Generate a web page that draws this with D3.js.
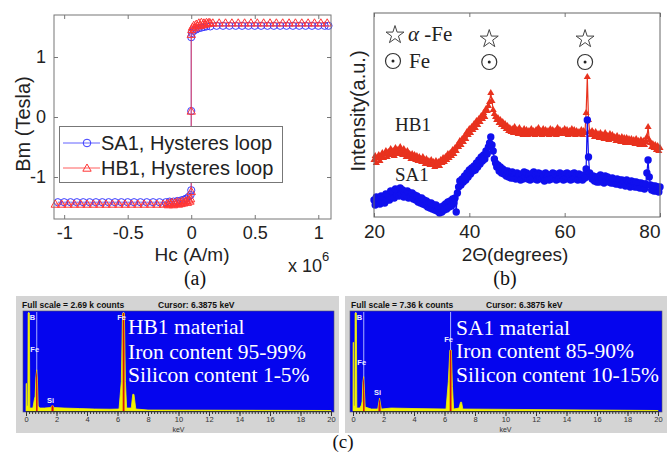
<!DOCTYPE html>
<html><head><meta charset="utf-8">
<script src="https://cdn.jsdelivr.net/npm/d3@7"></script>
<style>body{margin:0;background:#fff}svg{display:block}</style>
</head><body><svg id="chart" width="670" height="454"></svg>
<script>
// ---------------- Panel (a): hysteresis loops ----------------
const hcTicks = [-1, -0.5, 0, 0.5, 1];
const hcTickLabels = ["-1", "-0.5", "0", "0.5", "1"];
const bmTicks = [-1, 0, 1];
const bmTickLabels = ["-1", "0", "1"];
const sa1H = [-1.05,-1.00,-0.95,-0.90,-0.85,-0.80,-0.75,-0.70,-0.65,-0.60,-0.55,-0.50,-0.45,-0.40,-0.35,-0.30,-0.25,-0.20,
  -0.17,-0.14,-0.11,-0.08,-0.06,-0.04,-0.02,-0.005,
  0,0,0,
  0.005,0.02,0.04,0.06,0.08,0.10,0.12,0.15,
  0.20,0.25,0.30,0.35,0.40,0.45,0.50,0.55,0.60,0.65,0.70,0.75,0.80,0.85,0.90,0.95,1.00,1.05,1.08];
const sa1B = [-1.42,-1.42,-1.42,-1.42,-1.42,-1.42,-1.42,-1.42,-1.42,-1.42,-1.42,-1.42,-1.42,-1.42,-1.42,-1.42,-1.42,-1.42,
  -1.41,-1.41,-1.40,-1.39,-1.38,-1.36,-1.33,-1.30,
  -1.22,0.10,1.33,
  1.40,1.44,1.46,1.48,1.49,1.50,1.51,1.51,
  1.52,1.52,1.52,1.52,1.52,1.52,1.52,1.52,1.52,1.52,1.52,1.52,1.52,1.52,1.52,1.52,1.52,1.52,1.52];
const hb1H = [-1.07,-1.02,-0.97,-0.92,-0.87,-0.82,-0.77,-0.72,-0.67,-0.62,-0.57,-0.52,-0.47,-0.42,-0.37,-0.32,-0.27,-0.22,
  -0.19,-0.18,-0.17,-0.16,-0.15,-0.14,-0.13,-0.12,-0.11,-0.10,-0.09,-0.08,-0.07,-0.06,-0.05,-0.04,-0.03,-0.02,-0.01,-0.005,
  0,0,0,
  0.005,0.01,0.02,0.03,0.04,0.05,0.06,0.07,0.08,0.09,0.10,0.11,0.12,0.13,0.14,0.15,0.17,
  0.22,0.27,0.32,0.37,0.42,0.47,0.52,0.57,0.62,0.67,0.72,0.77,0.82,0.87,0.92,0.97,1.02,1.07];
const hb1B = [-1.45,-1.45,-1.45,-1.45,-1.45,-1.45,-1.45,-1.45,-1.45,-1.45,-1.45,-1.45,-1.45,-1.45,-1.45,-1.45,-1.45,-1.45,
  -1.44,-1.46,-1.43,-1.45,-1.42,-1.46,-1.43,-1.44,-1.41,-1.45,-1.42,-1.44,-1.40,-1.43,-1.41,-1.39,-1.42,-1.38,-1.40,-1.36,
  -1.24,0.10,1.38,
  1.46,1.50,1.53,1.49,1.55,1.52,1.57,1.53,1.58,1.54,1.57,1.55,1.58,1.56,1.58,1.57,1.57,
  1.57,1.57,1.57,1.57,1.57,1.57,1.57,1.57,1.57,1.57,1.57,1.57,1.57,1.57,1.57,1.57,1.57,1.57];
const loopNames = ["SA1, Hysteres loop", "HB1, Hysteres loop"];

// ---------------- Panel (b): XRD patterns ----------------
const twoThetaTicks = [20, 40, 60, 80];
const twoTheta = d3.range(20, 80.001, 0.25); // scan grid, 0.25 degree steps
const xrdHB1 = [
  57,61,54,59, 62,56,60,64, 59,63,66,60, 65,62,68,63, 66,61,69,64, 67,63,70,65,
  62,68,64,60, 66,61,63,58, 63,59,62,57, 61,56,60,58, 55,60,57,53, 58,54,56,52,
  57,53,55,50, 56,52,55,51, 57,54,59,55, 60,57,63,59, 64,61,67,63, 69,66,72,70,
  76,72,78,75, 81,78,85,82, 88,84,90,87, 93,89,96,92, 98,95,101,98, 104,100,108,106,
  111,115,124,116, 107,103,100,97, 99,94,97,92, 95,90,93,88, 91,86,89,85, 88,84,90,85,
  87,83,89,84, 86,82,88,83, 87,82,86,84, 88,83,86,82, 87,84,89,83, 86,82,88,84,
  87,83,86,82, 88,84,87,83, 86,82,89,84, 87,83,86,85, 88,83,87,82, 86,84,88,83,
  87,82,86,84, 85,83,87,82, 86,84,104,140, 97,85,82,86, 84,80,85,81, 83,79,84,80,
  82,78,84,79, 81,77,83,78, 82,78,80,76, 81,77,79,75, 80,76,79,74, 79,75,78,74,
  78,74,77,73, 78,73,76,72, 77,73,76,72, 75,80,90,77, 74,70,73,69, 72,67,71,66,
  69];
const xrdSA1 = [
  17,12,20,14, 18,13,21,15, 19,14,23,17, 22,17,26,20, 25,19,28,22, 26,21,29,23,
  27,20,25,22, 26,19,24,21, 24,18,22,17, 21,15,19,14, 19,13,17,12, 16,10,14,9,
  14,8,12,7, 12,6,10,4, 9,5,11,7, 13,8,15,10, 16,11,18,14, 19,5,24,30,
  36,32,38,35, 41,37,44,40, 47,43,49,46, 51,47,54,50, 57,53,60,56, 62,58,66,63,
  70,74,80,72, 66,58,54,50, 52,46,50,44, 48,43,46,41, 46,40,44,39, 45,39,43,38,
  44,39,42,37, 43,38,45,40, 44,38,42,37, 43,39,45,38, 42,37,44,39, 43,38,42,36,
  44,39,42,37, 42,38,44,39, 43,37,41,38, 44,39,42,37, 43,38,44,39, 42,37,43,38,
  44,39,42,37, 43,38,41,37, 42,39,48,97, 60,44,40,38, 41,36,40,35, 40,35,42,37,
  39,34,41,36, 40,35,38,34, 39,34,37,33, 38,33,37,32, 37,33,36,31, 37,32,35,30,
  36,31,35,30, 35,30,34,29, 34,29,33,28, 33,44,57,40, 32,27,31,26, 31,26,30,25,
  30];
const peakPositions = [44.6, 64.7];

// ---------------- Panel (c): EDS spectra ----------------
const edsTicks = [0, 2, 4, 6, 8, 10, 12, 14, 16, 18, 20];
const hb1KeV = [0,0.01,0.04,0.06,0.12,0.14,0.22,0.25,0.45,0.55,0.6,0.65,0.7,0.75,0.8,0.9,1.2,1.6,1.74,1.85,2.5,3.5,4.5,5.5,6.1,6.25,6.33,6.45,6.52,6.6,6.9,7.0,7.08,7.2,8,20];
const hb1Cnt = [0,0.28,0.28,0.05,0.05,1,1,0.03,0.03,0.12,0.15,0.35,0.42,0.3,0.05,0.03,0.03,0.035,0.06,0.035,0.03,0.025,0.02,0.018,0.02,0.3,1,1,0.3,0.03,0.03,0.17,0.17,0.02,0.01,0.005];
const sa1KeV = [0,0.01,0.04,0.06,0.12,0.14,0.22,0.25,0.45,0.55,0.6,0.65,0.7,0.75,0.8,1.2,1.62,1.74,1.86,2.5,4,6.1,6.25,6.35,6.45,6.52,6.6,6.95,7.05,7.12,7.2,20];
const sa1Cnt = [0,0.7,0.7,0.05,0.05,1,1,0.03,0.03,0.06,0.1,0.3,0.35,0.2,0.04,0.02,0.02,0.13,0.02,0.03,0.025,0.02,0.3,0.62,0.62,0.25,0.02,0.03,0.09,0.09,0.02,0.005];
const roiRanges = [[0.66, 0.76], [1.67, 1.81], [6.34, 6.46]];
const elementLines = ["B", "Fe", "Si", "Fe"];
const elementKeV = [0.18, 0.705, 1.74, 6.40];
const hb1Text = ["HB1 material", "Iron content 95-99%", "Silicon content 1-5%"];
const sa1Text = ["SA1 material", "Iron content 85-90%", "Silicon content 10-15%"];
const hb1Header = ["Full scale = 2.69 k counts", "Cursor:  6.3875 keV"];
const sa1Header = ["Full scale = 7.36 k counts", "Cursor:  6.3875 keV"];

// =====================================================
const SANS = "'Liberation Sans', Arial, sans-serif";
const SERIF = "'Liberation Serif', 'Times New Roman', serif";
const svg = d3.select("#chart");
svg.append("rect").attr("width", 670).attr("height", 454).attr("fill", "#fff");

function styleAxis(g, size) {
  g.select(".domain").remove();
  g.selectAll(".tick line").attr("stroke", "#777");
  g.selectAll(".tick text").attr("font-family", SANS).attr("font-size", size).attr("fill", "#222");
}

// ---------- Panel (a) ----------
{
  const x = d3.scaleLinear().domain([-1.08, 1.1]).range([54, 331]);
  const y = d3.scaleLinear().domain([-1.7, 1.7]).range([219, 15]);
  const g = svg.append("g");
  g.append("g").attr("transform", "translate(0,219)")
    .call(d3.axisBottom(x).tickValues(hcTicks).tickFormat((d, i) => hcTickLabels[i]).tickSizeInner(-4).tickSizeOuter(0).tickPadding(7))
    .call(a => styleAxis(a, 18));
  g.append("g").attr("transform", "translate(0,15)")
    .call(d3.axisTop(x).tickValues(hcTicks).tickFormat("").tickSizeInner(-4).tickSizeOuter(0))
    .call(a => styleAxis(a, 18));
  g.append("g").attr("transform", "translate(54,0)")
    .call(d3.axisLeft(y).tickValues(bmTicks).tickFormat((d, i) => bmTickLabels[i]).tickSizeInner(-4).tickSizeOuter(0).tickPadding(8))
    .call(a => styleAxis(a, 18));
  g.append("g").attr("transform", "translate(331,0)")
    .call(d3.axisRight(y).tickValues(bmTicks).tickFormat("").tickSizeInner(-4).tickSizeOuter(0))
    .call(a => styleAxis(a, 18));

  const blue = "#3a3aff", red = "#ff3535";
  const sa1 = sa1H.map((h, i) => [h, sa1B[i]]);
  const hb1 = hb1H.map((h, i) => [h, hb1B[i]]);
  const line = d3.line().x(d => x(d[0])).y(d => y(d[1]));
  g.append("path").attr("d", line(sa1)).attr("fill", "none").attr("stroke", blue).attr("stroke-width", 0.8);
  g.selectAll(".sa1m").data(sa1).join("circle").attr("cx", d => x(d[0])).attr("cy", d => y(d[1])).attr("r", 3.6)
    .attr("fill", "none").attr("stroke", blue).attr("stroke-width", 1);
  g.append("path").attr("d", line(hb1)).attr("fill", "none").attr("stroke", red).attr("stroke-width", 0.8);
  const tri = d3.symbol(d3.symbolTriangle, 30);
  g.selectAll(".hb1m").data(hb1).join("path").attr("d", tri)
    .attr("transform", d => `translate(${x(d[0])},${y(d[1]) + 0.8})`)
    .attr("fill", "none").attr("stroke", red).attr("stroke-width", 1);

  g.append("rect").attr("x", 54).attr("y", 15).attr("width", 277).attr("height", 204)
    .attr("fill", "none").attr("stroke", "#777").attr("stroke-width", 1);

  // legend
  const lg = g.append("g");
  lg.append("rect").attr("x", 59.5).attr("y", 126.5).attr("width", 223).attr("height", 56)
    .attr("fill", "#fff").attr("stroke", "#777");
  [[blue, 143], [red, 168]].forEach(([c, yy], i) => {
    lg.append("line").attr("x1", 63).attr("x2", 100).attr("y1", yy).attr("y2", yy).attr("stroke", c).attr("stroke-width", 0.8);
    if (i === 0) lg.append("circle").attr("cx", 87).attr("cy", yy).attr("r", 3.8).attr("fill", "none").attr("stroke", c);
    else lg.append("path").attr("d", tri).attr("transform", `translate(87,${yy + 0.8})`).attr("fill", "none").attr("stroke", c);
    lg.append("text").attr("x", 101).attr("y", yy + 7).text(loopNames[i])
      .attr("font-family", SANS).attr("font-size", 20).attr("fill", "#222");
  });

  g.append("text").attr("transform", "translate(30,124) rotate(-90)").attr("text-anchor", "middle")
    .attr("font-family", SANS).attr("font-size", 20).attr("fill", "#222").text("Bm (Tesla)");
  g.append("text").attr("x", 192).attr("y", 261).attr("text-anchor", "middle")
    .attr("font-family", SANS).attr("font-size", 19).attr("fill", "#222").text("Hc (A/m)");
  const ex = g.append("text").attr("x", 288).attr("y", 272).attr("font-family", SANS).attr("font-size", 18).attr("fill", "#222");
  ex.append("tspan").text("x 10");
  ex.append("tspan").attr("dy", -11).attr("font-size", 13).text("6");
  g.append("text").attr("x", 195).attr("y", 285).attr("text-anchor", "middle")
    .attr("font-family", SERIF).attr("font-size", 20).attr("fill", "#111").text("(a)");
}

// ---------- Panel (b) ----------
{
  const x = d3.scaleLinear().domain([20, 80]).range([374, 660]);
  const y = d3.scaleLinear().domain([0, 204]).range([217, 13]);
  const g = svg.append("g");
  g.append("g").attr("transform", "translate(0,217)")
    .call(d3.axisBottom(x).tickValues(twoThetaTicks).tickFormat(d3.format("d")).tickSizeInner(-4).tickSizeOuter(0).tickPadding(8))
    .call(a => styleAxis(a, 19))
    .call(a => a.selectAll(".tick text").filter(d => d === 80).attr("text-anchor", "end").attr("dx", 0));
  g.append("g").attr("transform", "translate(0,13)")
    .call(d3.axisTop(x).tickValues(twoThetaTicks).tickFormat("").tickSizeInner(-4).tickSizeOuter(0))
    .call(a => styleAxis(a, 19));

  const red = "#e8321e", blue = "#1010ee";
  const hb1 = twoTheta.map((t, i) => [t, xrdHB1[i]]);
  const sa1 = twoTheta.map((t, i) => [t, xrdSA1[i]]);
  const line = d3.line().x(d => x(d[0])).y(d => y(d[1]));
  g.append("path").attr("d", line(hb1)).attr("fill", "none").attr("stroke", red).attr("stroke-width", 1.2);
  const tri = d3.symbol(d3.symbolTriangle, 22);
  g.selectAll(".hb").data(hb1).join("path").attr("d", tri)
    .attr("transform", d => `translate(${x(d[0])},${y(d[1])})`).attr("fill", red);
  g.append("path").attr("d", line(sa1)).attr("fill", "none").attr("stroke", blue).attr("stroke-width", 1.2);
  g.selectAll(".sa").data(sa1).join("circle").attr("cx", d => x(d[0])).attr("cy", d => y(d[1])).attr("r", 3.7).attr("fill", blue);

  g.append("rect").attr("x", 374).attr("y", 13).attr("width", 286).attr("height", 204)
    .attr("fill", "none").attr("stroke", "#666").attr("stroke-width", 1);

  const star = d3.symbol(d3.symbolStar, 100);
  function drawStar(cx, cy) {
    g.append("path").attr("d", star).attr("transform", `translate(${cx},${cy + 1})`)
      .attr("fill", "#fff").attr("stroke", "#444").attr("stroke-width", 1);
  }
  function drawCirc(cx, cy) {
    g.append("circle").attr("cx", cx).attr("cy", cy).attr("r", 7.5).attr("fill", "#fff").attr("stroke", "#333").attr("stroke-width", 1.2);
    g.append("circle").attr("cx", cx).attr("cy", cy).attr("r", 1.5).attr("fill", "#222");
  }
  drawStar(395, 34); drawCirc(393, 61);
  peakPositions.forEach(p => { drawStar(x(p) - 2, 38); drawCirc(x(p) - 2, 62); });
  const t1 = g.append("text").attr("x", 408).attr("y", 41).attr("font-family", SERIF).attr("font-size", 21).attr("fill", "#222");
  t1.append("tspan").attr("font-style", "italic").text("α");
  t1.append("tspan").text(" -Fe");
  g.append("text").attr("x", 409).attr("y", 68).attr("font-family", SERIF).attr("font-size", 21).attr("fill", "#222").text("Fe");
  g.append("text").attr("x", 395).attr("y", 131).attr("font-family", SERIF).attr("font-size", 19).attr("fill", "#222").text("HB1");
  g.append("text").attr("x", 395).attr("y", 181).attr("font-family", SERIF).attr("font-size", 19).attr("fill", "#222").text("SA1");

  g.append("text").attr("transform", "translate(365,111) rotate(-90)").attr("text-anchor", "middle")
    .attr("font-family", SANS).attr("font-size", 20).attr("fill", "#222").text("Intensity(a.u.)");
  g.append("text").attr("x", 515).attr("y", 261).attr("text-anchor", "middle")
    .attr("font-family", SANS).attr("font-size", 19).attr("fill", "#222").text("2Θ(degrees)");
  g.append("text").attr("x", 505).attr("y", 285).attr("text-anchor", "middle")
    .attr("font-family", SERIF).attr("font-size", 20).attr("fill", "#111").text("(b)");
}

// ---------- Panel (c) ----------
function drawEDS(o) {
  const g = svg.append("g");
  g.append("rect").attr("x", o.fx).attr("y", 296).attr("width", o.fw).attr("height", 137).attr("fill", "#d4d4d4");
  const x = d3.scaleLinear().domain([0, 20]).range([o.x0, o.x1]);
  const y = d3.scaleLinear().domain([0, 1]).range([411, 313]);
  g.append("rect").attr("x", o.bx).attr("y", 311).attr("width", o.bw).attr("height", 101).attr("fill", "#0505ee").attr("stroke", "#556").attr("stroke-width", 0.6);
  // header
  g.append("text").attr("x", o.fx + 6).attr("y", 308).attr("font-family", SANS).attr("font-weight", "bold").attr("font-size", 8.5).attr("fill", "#111").text(o.header[0]);
  g.append("text").attr("x", o.cx).attr("y", 308).attr("font-family", SANS).attr("font-weight", "bold").attr("font-size", 8.5).attr("fill", "#111").text(o.header[1]);
  // element marker lines
  [0, 1, 3].forEach(i => g.append("line").attr("x1", x(elementKeV[i])).attr("x2", x(elementKeV[i])).attr("y1", 312).attr("y2", 411)
    .attr("stroke", "#aab0ff").attr("stroke-width", 1));
  const data = o.kev.map((k, i) => [k, o.cnt[i]]);
  const area = d3.area().x(d => x(d[0])).y0(411).y1(d => y(d[1]));
  g.append("path").attr("d", area(data)).attr("fill", "#f2f200").attr("stroke", "#f2f200").attr("stroke-width", 0.8);
  const cid = "clip" + o.id;
  const cp = g.append("clipPath").attr("id", cid);
  roiRanges.forEach(r => cp.append("rect").attr("x", x(r[0])).attr("width", x(r[1]) - x(r[0])).attr("y", 300).attr("height", 120));
  g.append("path").attr("d", area(data)).attr("fill", "#d81010").attr("clip-path", `url(#${cid})`);
  // element labels
  elementLines.forEach((e, i) => g.append("text").attr("x", x(elementKeV[i]) + (i === 0 ? 1 : -2)).attr("y", o.labY[i])
    .attr("text-anchor", i === 0 ? "start" : "middle")
    .attr("font-family", SANS).attr("font-weight", "bold").attr("font-size", 7.5).attr("fill", "#eef").text(e));
  // ruler
  const ax = g.append("g").attr("transform", "translate(0,411)")
    .call(d3.axisBottom(x).tickValues(edsTicks).tickSizeInner(5).tickSizeOuter(0).tickPadding(1));
  ax.select(".domain").attr("stroke", "#333");
  ax.selectAll(".tick line").attr("stroke", "#333");
  ax.selectAll(".tick text").attr("font-family", SANS).attr("font-size", 7.5).attr("fill", "#333");
  g.append("g").attr("transform", "translate(0,411)")
    .call(d3.axisBottom(x).ticks(80).tickFormat("").tickSizeInner(3).tickSizeOuter(0))
    .call(a => { a.select(".domain").remove(); a.selectAll(".tick line").attr("stroke", "#333"); });
  g.append("text").attr("x", x(10)).attr("y", 431.5).attr("text-anchor", "middle").attr("font-family", SANS).attr("font-size", 7).attr("fill", "#333").text("keV");
  // annotation
  o.text.forEach((t, i) => g.append("text").attr("x", o.tx).attr("y", o.ty[i]).attr("font-family", SERIF).attr("font-size", 21.5).attr("fill", "#fff").text(t));
}
drawEDS({ id: "l", fx: 16, fw: 323, bx: 23, bw: 311, x0: 26, x1: 331, cx: 158, header: hb1Header, kev: hb1KeV, cnt: hb1Cnt,
  labY: [320, 352, 403, 320], text: hb1Text, tx: 128, ty: [334, 359, 382] });
drawEDS({ id: "r", fx: 345, fw: 322, bx: 350, bw: 312, x0: 353, x1: 658, cx: 486, header: sa1Header, kev: sa1KeV, cnt: sa1Cnt,
  labY: [320, 365, 395, 342], text: sa1Text, tx: 456, ty: [335, 358, 382] });

svg.append("text").attr("x", 343).attr("y", 448).attr("text-anchor", "middle")
  .attr("font-family", SERIF).attr("font-size", 19).attr("fill", "#111").text("(c)");
</script></body></html>
